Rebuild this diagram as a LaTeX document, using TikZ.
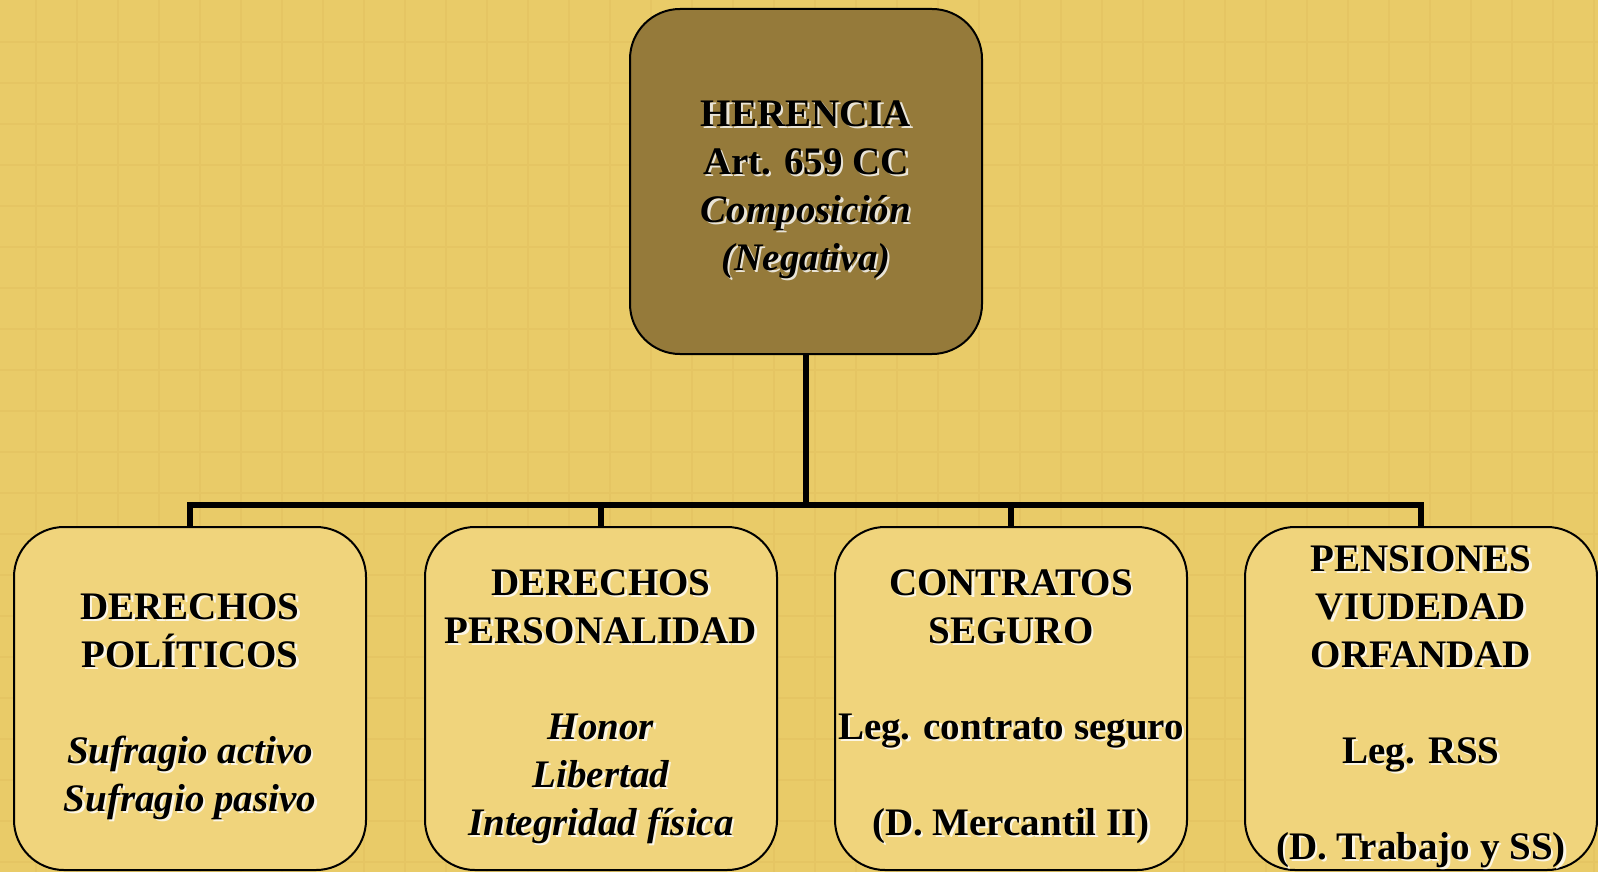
\documentclass[tikz,border=0pt]{standalone}
\usepackage{fontspec}
\setmainfont{Liberation Serif}
\definecolor{bgcol}{RGB}{233,203,104}
\definecolor{gridcol}{RGB}{229,197,99}
\definecolor{topfill}{RGB}{149,122,58}
\definecolor{boxfill}{RGB}{240,212,124}
\newcommand\txtHer{HERENCIA\\Art. 659 CC\\\textit{Composición}\\\textit{(Negativa)}}
\newcommand\txtPol{DERECHOS\\POLÍTICOS\\[24pt]\textit{Sufragio activo}\\\textit{Sufragio pasivo}}
\newcommand\txtPer{DERECHOS\\PERSONALIDAD\\[24pt]\textit{Honor}\\\textit{Libertad}\\\textit{Integridad física}}
\newcommand\txtCon{CONTRATOS\\SEGURO\\[24pt]Leg. contrato seguro\\[24pt](D. Mercantil II)}
\newcommand\txtPen{PENSIONES\\VIUDEDAD\\ORFANDAD\\[24pt]Leg. RSS\\[24pt](D. Trabajo y SS)}
\begin{document}
\begin{tikzpicture}[x=0.5pt,y=-0.5pt,
  box/.style={draw=black,line width=1pt,rounded corners=25pt,minimum width=176pt,inner sep=0pt},
  topbox/.style={box,fill=topfill,minimum height=172.5pt},
  lowbox/.style={box,fill=boxfill,minimum height=171.5pt},
  conn/.style={draw=black,line width=3pt},
  txt/.style={anchor=north,inner sep=0pt,align=center,font=\bfseries\fontsize{19.5}{24}\selectfont},
  glow/.style={txt,text=white,opacity=0.8,xshift=1.2pt,yshift=-1.2pt},
  gridline/.style={draw=gridcol,line width=1.1pt}]
\useasboundingbox (0,0) rectangle (1598,872);
\fill[bgcol] (0,0) rectangle (1598,872);
\foreach \x in {36,77,...,1598} \draw[gridline] (\x,0) -- (\x,872);
\foreach \y in {42,83,...,872} \draw[gridline] (0,\y) -- (1598,\y);
% boxes
\node[topbox] (top) at (806,181.5) {};
\node[lowbox] (b1) at (190,698.5) {};
\node[lowbox] (b2) at (601,698.5) {};
\node[lowbox] (b3) at (1011,698.5) {};
\node[lowbox] (b4) at (1421,698.5) {};
% connectors
\coordinate (j) at (806,505);
\draw[conn] (top.south) -- (j);
\draw[conn] (b1.north) |- (j) -| (b4.north);
\draw[conn] (b2.north) -- (b2.north |- j);
\draw[conn] (b3.north) -- (b3.north |- j);
% texts with light shadow
\node[glow] (t0g) at (806,100) {\txtHer};
\node[txt] (t0) at (806,100) {\txtHer};
\node[glow] (t1g) at (190,593) {\txtPol};
\node[txt] (t1) at (190,593) {\txtPol};
\node[glow] (t2g) at (601,569) {\txtPer};
\node[txt] (t2) at (601,569) {\txtPer};
\node[glow] (t3g) at (1011,569) {\txtCon};
\node[txt] (t3) at (1011,569) {\txtCon};
\node[glow] (t4g) at (1421,545) {\txtPen};
\node[txt] (t4) at (1421,545) {\txtPen};
\end{tikzpicture}
\end{document}
